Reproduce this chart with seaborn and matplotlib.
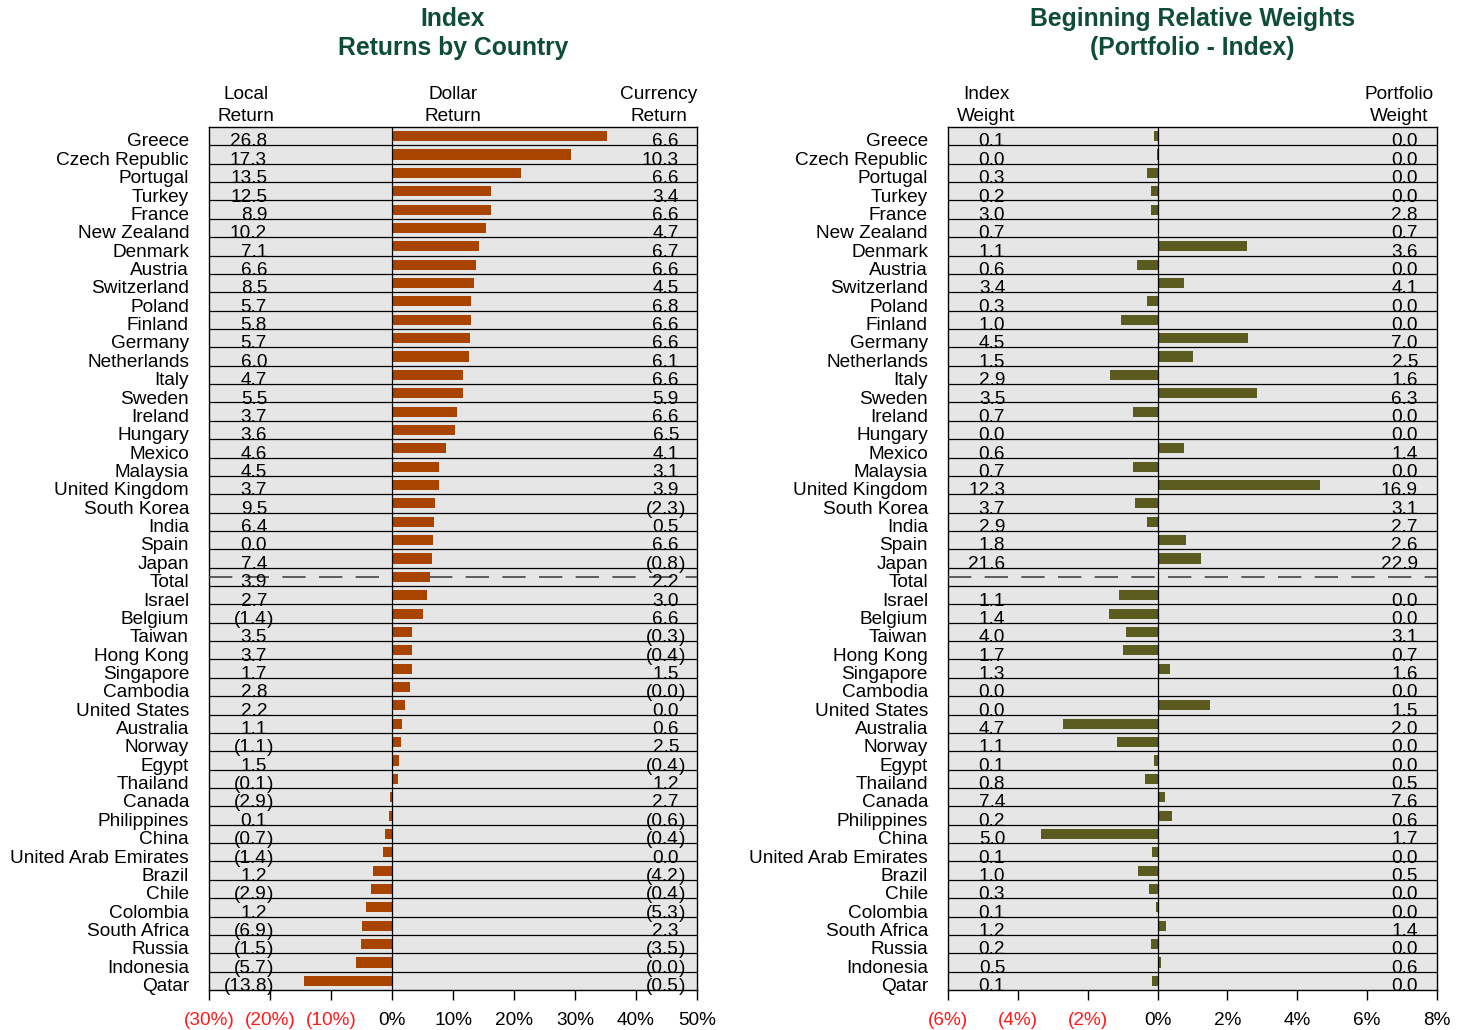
import numpy as np
import pandas as pd
import matplotlib
matplotlib.use('Agg')
import matplotlib.pyplot as plt
import matplotlib.transforms as mtransforms
import seaborn as sns

# --- Data --- #
countries = ['Greece', 'Czech Republic', 'Portugal', 'Turkey', 'France', 'New Zealand',
             'Denmark', 'Austria', 'Switzerland', 'Poland', 'Finland', 'Germany',
             'Netherlands', 'Italy', 'Sweden', 'Ireland', 'Hungary', 'Mexico',
             'Malaysia', 'United Kingdom', 'South Korea', 'India', 'Spain', 'Japan',
             'Total',
             'Israel', 'Belgium', 'Taiwan', 'Hong Kong', 'Singapore', 'Cambodia',
             'United States', 'Australia', 'Norway', 'Egypt', 'Thailand', 'Canada',
             'Philippines', 'China', 'United Arab Emirates', 'Brazil', 'Chile',
             'Colombia', 'South Africa', 'Russia', 'Indonesia', 'Qatar']

local_ret = [26.8, 17.3, 13.5, 12.5, 8.9, 10.2, 7.1, 6.6, 8.5, 5.7, 5.8, 5.7,
             6.0, 4.7, 5.5, 3.7, 3.6, 4.6, 4.5, 3.7, 9.5, 6.4, 0.0, 7.4,
             3.9,
             2.7, -1.4, 3.5, 3.7, 1.7, 2.8, 2.2, 1.1, -1.1, 1.5, -0.1, -2.9,
             0.1, -0.7, -1.4, 1.2, -2.9, 1.2, -6.9, -1.5, -5.7, -13.8]

dollar_ret = [35.2, 29.4, 21.1, 16.3, 16.2, 15.4, 14.3, 13.7, 13.4, 12.9, 12.9, 12.8,
              12.6, 11.7, 11.6, 10.6, 10.4, 8.9, 7.7, 7.7, 7.1, 6.9, 6.7, 6.5,
              6.3,
              5.8, 5.1, 3.3, 3.2, 3.2, 2.9, 2.2, 1.7, 1.4, 1.1, 1.05, -0.3,
              -0.5, -1.2, -1.5, -3.1, -3.4, -4.3, -4.9, -5.1, -5.9, -14.4]

currency_ret = [6.6, 10.3, 6.6, 3.4, 6.6, 4.7, 6.7, 6.6, 4.5, 6.8, 6.6, 6.6,
                6.1, 6.6, 5.9, 6.6, 6.5, 4.1, 3.1, 3.9, -2.3, 0.5, 6.6, -0.8,
                2.2,
                3.0, 6.6, -0.3, -0.4, 1.5, -0.04, 0.0, 0.6, 2.5, -0.4, 1.2, 2.7,
                -0.6, -0.4, 0.0, -4.2, -0.4, -5.3, 2.3, -3.5, -0.03, -0.5]

index_wt = [0.1, 0.0, 0.3, 0.2, 3.0, 0.7, 1.1, 0.6, 3.4, 0.3, 1.0, 4.5,
            1.5, 2.9, 3.5, 0.7, 0.0, 0.6, 0.7, 12.3, 3.7, 2.9, 1.8, 21.6,
            np.nan,
            1.1, 1.4, 4.0, 1.7, 1.3, 0.0, 0.0, 4.7, 1.1, 0.1, 0.8, 7.4,
            0.2, 5.0, 0.1, 1.0, 0.3, 0.1, 1.2, 0.2, 0.5, 0.1]

portfolio_wt = [0.0, 0.0, 0.0, 0.0, 2.8, 0.7, 3.6, 0.0, 4.1, 0.0, 0.0, 7.0,
                2.5, 1.6, 6.3, 0.0, 0.0, 1.4, 0.0, 16.9, 3.1, 2.7, 2.6, 22.9,
                np.nan,
                0.0, 0.0, 3.1, 0.7, 1.6, 0.0, 1.5, 2.0, 0.0, 0.0, 0.5, 7.6,
                0.6, 1.7, 0.0, 0.5, 0.0, 0.0, 1.4, 0.0, 0.6, 0.0]

relative_wt = [-0.1, -0.02, -0.3, -0.2, -0.2, 0.0, 2.55, -0.6, 0.75, -0.3, -1.05, 2.6,
               1.0, -1.35, 2.85, -0.7, 0.0, 0.75, -0.7, 4.65, -0.65, -0.3, 0.8, 1.25,
               np.nan,
               -1.1, -1.4, -0.9, -1.0, 0.35, 0.02, 1.5, -2.7, -1.15, -0.1, -0.35, 0.2,
               0.4, -3.35, -0.15, -0.55, -0.25, -0.05, 0.25, -0.2, 0.1, -0.15]

df = pd.DataFrame({'country': countries, 'local': local_ret, 'dollar': dollar_ret,
                   'currency': currency_ret, 'index_wt': index_wt,
                   'portfolio_wt': portfolio_wt, 'relative': relative_wt})

# --- Style --- #
sns.set_style('white')
plt.rcParams['font.family'] = ['Liberation Sans', 'DejaVu Sans']
plt.rcParams['text.color'] = 'black'
plt.rcParams['xtick.color'] = 'black'
FS = 13.7
TITLE_COLOR = '#0f4c3a'
NEG_COLOR = '#ff1a1a'
n = len(countries)
total_idx = countries.index('Total')

fig = plt.figure(figsize=(14.66, 10.30), dpi=100)
W, H = 1466, 1030
ax_bottom = 1 - 990 / H
ax_height = 863 / H
ax1 = fig.add_axes([209 / W, ax_bottom, 488 / W, ax_height])
ax2 = fig.add_axes([948 / W, ax_bottom, 489 / W, ax_height])


def put_num(ax, xfrac, y, v):
    trans = mtransforms.blended_transform_factory(ax.transAxes, ax.transData)
    s = f'{abs(v):.1f}'
    if v < 0:
        ax.text(xfrac, y, '(' + s, ha='right', va='baseline', fontsize=FS, transform=trans, zorder=5)
        ax.text(xfrac, y, ')', ha='left', va='baseline', fontsize=FS, transform=trans, zorder=5)
    else:
        ax.text(xfrac, y, s, ha='right', va='baseline', fontsize=FS, transform=trans, zorder=5)


def pct_label(v):
    return f'({abs(v):.0f}%)' if v < 0 else f'{v:.0f}%'


def draw_panel(ax, col, color, xlim, ticks, left_col, right_col, left_x, right_x,
               headers, title):
    ax.set_facecolor('#e6e6e6')
    sns.barplot(data=df, x=col, y='country', order=countries, color=color,
                saturation=1, width=0.55, orient='h', errorbar=None, ax=ax,
                edgecolor='none', linewidth=0, zorder=4)
    ax.set_xlim(*xlim)
    ax.set_ylim(n - 0.5, -0.5)
    ax.set_xlabel('')
    ax.set_ylabel('')
    ax.set_yticks([])
    ax.set_xticks(ticks)
    ax.set_xticklabels([pct_label(t) for t in ticks])
    for lab, t in zip(ax.get_xticklabels(), ticks):
        lab.set_color(NEG_COLOR if t < 0 else 'black')
    ax.tick_params(axis='x', length=7, width=1, color='black', labelsize=FS, pad=9,
                   bottom=True, direction='out')
    for sp in ax.spines.values():
        sp.set_color('black')
        sp.set_linewidth(1)

    # row separators, zero line, dashed total line
    for k in range(n - 1):
        ax.axhline(k + 0.5, color='black', lw=0.9, zorder=2)
    ax.axvline(0, color='black', lw=0.9, zorder=6)
    ax.axhline(total_idx, color='#444444', lw=1.2, ls=(0, (14, 8)), zorder=3)

    trans = mtransforms.blended_transform_factory(ax.transAxes, ax.transData)
    for i, name in enumerate(countries):
        yy = i + 0.56
        ax.text(-20 / 488, yy, name, ha='right', va='baseline', fontsize=FS, transform=trans)
        lv = df[left_col].iloc[i]
        rv = df[right_col].iloc[i]
        if not np.isnan(lv):
            put_num(ax, left_x, yy, lv)
        if not np.isnan(rv):
            put_num(ax, right_x, yy, rv)

    for hx, htxt in headers:
        ax.text(hx, 1.0025, htxt, ha='center', va='bottom', fontsize=FS,
                linespacing=1.38, transform=ax.transAxes)

    pos = ax.get_position()
    fig.text(pos.x0 + pos.width / 2, 1 - 33.5 / H, title, ha='center', va='center',
             fontsize=17.8, fontweight='bold', color=TITLE_COLOR, linespacing=1.3)


draw_panel(ax1, 'dollar', '#a84300', (-30, 50), list(range(-30, 51, 10)),
           'local', 'currency', 0.119, 0.963,
           [(0.076, 'Local\nReturn'), (0.5, 'Dollar\nReturn'), (0.922, 'Currency\nReturn')],
           'Index\nReturns by Country')

draw_panel(ax2, 'relative', '#5b5b1f', (-6, 8), list(range(-6, 9, 2)),
           'index_wt', 'portfolio_wt', 0.117, 0.961,
           [(0.078, 'Index\nWeight'), (0.922, 'Portfolio\nWeight')],
           'Beginning Relative Weights\n(Portfolio - Index)')

fig.savefig('out.png', dpi=100, facecolor='white')
